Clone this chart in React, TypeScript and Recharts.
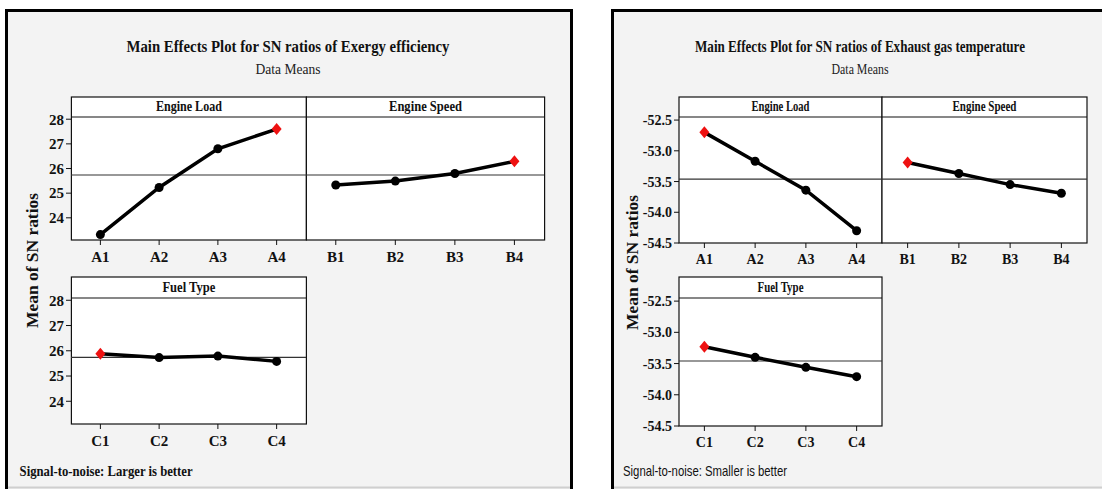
import React from "react";
import { LineChart, Line, XAxis, YAxis, ReferenceLine } from "recharts";

const factorNames = ["Engine Load", "Engine Speed", "Fuel Type"];
const loadLevels = ["A1", "A2", "A3", "A4"];
const speedLevels = ["B1", "B2", "B3", "B4"];
const fuelLevels = ["C1", "C2", "C3", "C4"];

// mean SN ratios – exergy efficiency (larger is better)
const exergyLoad = [23.32, 25.23, 26.8, 27.6];
const exergySpeed = [25.33, 25.49, 25.8, 26.29];
const exergyFuel = [25.88, 25.73, 25.79, 25.58];
const exergyTicks = [24, 25, 26, 27, 28];

// mean SN ratios – exhaust gas temperature (smaller is better)
const exhaustLoad = [-52.7, -53.17, -53.64, -54.3];
const exhaustSpeed = [-53.19, -53.37, -53.55, -53.69];
const exhaustFuel = [-53.23, -53.4, -53.56, -53.71];
const exhaustTicks = [-54.5, -54.0, -53.5, -53.0, -52.5];

const SERIF = "'Liberation Serif', 'Times New Roman', serif";
const SANS = "'Liberation Sans', Arial, sans-serif";
const BG = "#f3f3f3";
const RED = "#ee1111";
const YW = 60;
const PAD_TOP = 12; // room so the top tick label isn't clipped

type Box = { x: number; y: number; w: number; h: number; head: number; headW: number };

type FigureProps = {
  frameX: number;
  frameW: number;
  closedRight: boolean;
  title: string;
  titleW: number;
  subW: number;
  cx: number;
  labelX: number;
  labelY: number;
  note: string;
  noteX: number;
  noteW: number;
  noteFont: string;
  noteWeight: number;
  boxes: Box[];
  levels: string[][];
  values: number[][];
  domain: [number, number];
  ticks: number[];
  decimals: number;
  tickSize: number;
};

const avg = (sets: number[][]) => {
  const all = sets.flat();
  return all.reduce((s, v) => s + v, 0) / all.length;
};

function makeDot(best: number) {
  return (props: any) => {
    const { cx, cy, index } = props;
    if (index === best) {
      return (
        <polygon
          key={`d${index}`}
          points={`${cx},${cy - 6} ${cx + 5},${cy} ${cx},${cy + 6} ${cx - 5},${cy}`}
          fill={RED}
        />
      );
    }
    return <circle key={`d${index}`} cx={cx} cy={cy} r={4.5} fill="#000" />;
  };
}

function Figure(p: FigureProps) {
  const mean = avg(p.values);
  const right = p.frameX + p.frameW - 1.5;
  return (
    <>
      <svg
        width={1102}
        height={489}
        style={{ position: "absolute", left: 0, top: 0 }}
      >
        <rect x={p.frameX} y={9} width={p.frameW} height={480} fill={BG} />
        <line x1={p.frameX} x2={p.frameX + p.frameW} y1={487.5} y2={487.5} stroke="#cfcfcf" strokeWidth={2} />
        <path
          d={
            p.closedRight
              ? `M${p.frameX + 1.5},489 V10.5 H${right} V489`
              : `M${p.frameX + 1.5},489 V10.5 H${p.frameX + p.frameW}`
          }
          fill="none"
          stroke="#000"
          strokeWidth={3}
        />
        <text
          x={p.cx}
          y={52}
          textAnchor="middle"
          fontFamily={SERIF}
          fontWeight={700}
          fontSize={16}
          textLength={p.titleW}
          lengthAdjust="spacingAndGlyphs"
          fill="#111"
        >
          {p.title}
        </text>
        <text
          x={p.cx}
          y={74}
          textAnchor="middle"
          fontFamily={SERIF}
          fontSize={15}
          textLength={p.subW}
          lengthAdjust="spacingAndGlyphs"
          fill="#222"
        >
          Data Means
        </text>
        <text
          transform={`translate(${p.labelX},${p.labelY}) rotate(-90)`}
          textAnchor="middle"
          fontFamily={SERIF}
          fontWeight={700}
          fontSize={16}
          textLength={135}
          lengthAdjust="spacingAndGlyphs"
          fill="#111"
        >
          Mean of SN ratios
        </text>
        <text
          x={p.noteX}
          y={476}
          fontFamily={p.noteFont}
          fontWeight={p.noteWeight}
          fontSize={15}
          textLength={p.noteW}
          lengthAdjust="spacingAndGlyphs"
          fill="#111"
        >
          {p.note}
        </text>
        {p.boxes.map((b, i) => (
          <g key={i}>
            <rect
              x={b.x}
              y={b.y - b.head}
              width={b.w}
              height={b.h + b.head}
              fill="#fff"
              stroke="#111"
              strokeWidth={1.2}
            />
            <line x1={b.x} x2={b.x + b.w} y1={b.y} y2={b.y} stroke="#111" strokeWidth={1.2} />
            <text
              x={b.x + b.w / 2}
              y={b.y - 6}
              textAnchor="middle"
              fontFamily={SERIF}
              fontWeight={700}
              fontSize={14}
              textLength={b.headW}
              lengthAdjust="spacingAndGlyphs"
              fill="#111"
            >
              {factorNames[i]}
            </text>
          </g>
        ))}
      </svg>
      {p.boxes.map((b, i) => {
        const showY = i !== 1;
        const yw = showY ? YW : 0;
        const vals = p.values[i];
        const rows = p.levels[i].map((level, k) => ({ level, value: vals[k] }));
        const best = vals.indexOf(Math.max(...vals));
        const tickStyle = {
          fill: "#111",
          fontSize: p.tickSize,
          fontFamily: SERIF,
          fontWeight: 700,
        };
        return (
          <div
            key={i}
            style={{ position: "absolute", left: b.x - yw, top: b.y - PAD_TOP }}
          >
            <LineChart
              width={b.w + yw}
              height={b.h + 32 + PAD_TOP}
              data={rows}
              margin={{ top: PAD_TOP, right: 0, bottom: 0, left: 0 }}
            >
              <XAxis
                dataKey="level"
                interval={0}
                height={32}
                padding={{ left: b.w / 8, right: b.w / 8 }}
                axisLine={false}
                stroke="#111"
                tickSize={5}
                tickMargin={6}
                tick={tickStyle}
              />
              <YAxis
                hide={!showY}
                width={yw}
                type="number"
                domain={p.domain}
                ticks={p.ticks}
                interval={0}
                allowDataOverflow
                axisLine={false}
                stroke="#111"
                tickSize={5}
                tickMargin={2}
                tick={tickStyle}
                tickFormatter={(v: number) => v.toFixed(p.decimals)}
              />
              <ReferenceLine y={mean} stroke="#333" strokeWidth={1.2} />
              <Line
                dataKey="value"
                stroke="#000"
                strokeWidth={3.5}
                dot={makeDot(best)}
                activeDot={false}
                isAnimationActive={false}
              />
            </LineChart>
          </div>
        );
      })}
    </>
  );
}

const exergyBoxes: Box[] = [
  { x: 71.4, y: 117, w: 235, h: 123, head: 20, headW: 66 },
  { x: 306.4, y: 117, w: 238.2, h: 123, head: 20, headW: 73 },
  { x: 71.4, y: 298, w: 235, h: 126, head: 21, headW: 53 },
];

const exhaustBoxes: Box[] = [
  { x: 679, y: 117, w: 203, h: 126, head: 20, headW: 58 },
  { x: 882, y: 117, w: 205, h: 126, head: 20, headW: 64 },
  { x: 679, y: 298, w: 203, h: 128, head: 21, headW: 46 },
];

export default function App() {
  return (
    <div
      style={{
        position: "absolute",
        left: 0,
        top: 0,
        width: 1102,
        height: 489,
        background: "#fff",
        overflow: "hidden",
      }}
    >
      <Figure
        frameX={5}
        frameW={568}
        closedRight
        title="Main Effects Plot for SN ratios of Exergy efficiency"
        titleW={323}
        subW={65}
        cx={288}
        labelX={38}
        labelY={260.5}
        note="Signal-to-noise: Larger is better"
        noteX={19.6}
        noteW={173}
        noteFont={SERIF}
        noteWeight={700}
        boxes={exergyBoxes}
        levels={[loadLevels, speedLevels, fuelLevels]}
        values={[exergyLoad, exergySpeed, exergyFuel]}
        domain={[23.1, 28.09]}
        ticks={exergyTicks}
        decimals={0}
        tickSize={15}
      />
      <Figure
        frameX={611}
        frameW={500}
        closedRight={false}
        title="Main Effects Plot for SN ratios of Exhaust gas temperature"
        titleW={330}
        subW={57}
        cx={860}
        labelX={637.5}
        labelY={262.5}
        note="Signal-to-noise: Smaller is better"
        noteX={623}
        noteW={164}
        noteFont={SANS}
        noteWeight={400}
        boxes={exhaustBoxes}
        levels={[loadLevels, speedLevels, fuelLevels]}
        values={[exhaustLoad, exhaustSpeed, exhaustFuel]}
        domain={[-54.5, -52.45]}
        ticks={exhaustTicks}
        decimals={1}
        tickSize={14}
      />
    </div>
  );
}
